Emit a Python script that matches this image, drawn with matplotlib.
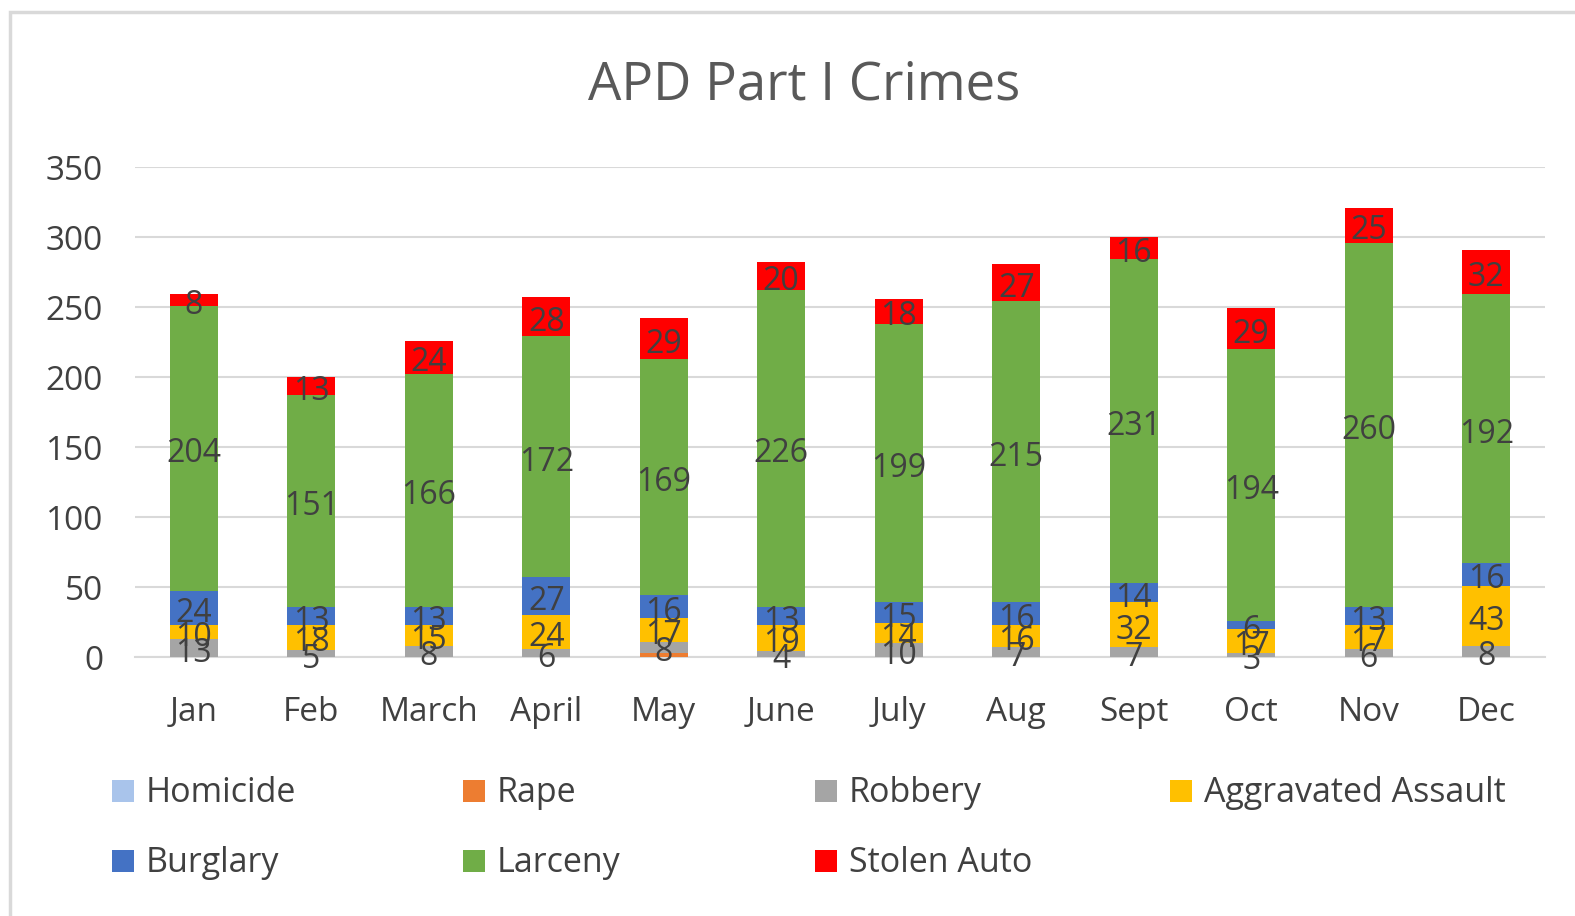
import matplotlib
matplotlib.use("Agg")
import matplotlib.pyplot as plt
from matplotlib.patches import Rectangle
import numpy as np

plt.rcParams['font.family'] = ['Open Sans', 'DejaVu Sans']

months = ["Jan", "Feb", "March", "April", "May", "June", "July", "Aug", "Sept", "Oct", "Nov", "Dec"]
homicide = [0, 0, 0, 0, 0, 0, 0, 0, 0, 0, 0, 0]
rape = [0, 0, 0, 0, 3, 0, 0, 0, 0, 0, 0, 0]
robbery = [13, 5, 8, 6, 8, 4, 10, 7, 7, 3, 6, 8]
agg_assault = [10, 18, 15, 24, 17, 19, 14, 16, 32, 17, 17, 43]
burglary = [24, 13, 13, 27, 16, 13, 15, 16, 14, 6, 13, 16]
larceny = [204, 151, 166, 172, 169, 226, 199, 215, 231, 194, 260, 192]
stolen_auto = [8, 13, 24, 28, 29, 20, 18, 27, 16, 29, 25, 32]

series = [
    ("Homicide", homicide, "#A9C4EB", False),
    ("Rape", rape, "#ED7D31", False),
    ("Robbery", robbery, "#A5A5A5", True),
    ("Aggravated Assault", agg_assault, "#FFC000", True),
    ("Burglary", burglary, "#4472C4", True),
    ("Larceny", larceny, "#70AD47", True),
    ("Stolen Auto", stolen_auto, "#FF0000", True),
]

W, H = 1575, 916
fig = plt.figure(figsize=(W / 100, H / 100), dpi=100)
ax = fig.add_axes([135 / W, 1 - 657 / H, 1410 / W, 490 / H])

text_col = "#404040"
x = np.arange(len(months))
bottom = np.zeros(len(months))
for name, vals, col, lab in series:
    v = np.array(vals, dtype=float)
    ax.bar(x, v, 0.41, bottom=bottom, color=col, zorder=3, label=name)
    if lab:
        for xi, b, vi in zip(x, bottom, v):
            ax.annotate(f"{int(vi)}", (xi, b + vi / 2), xytext=(0, -4),
                        textcoords="offset points", ha="center", va="center",
                        fontsize=23, color=text_col, zorder=4)
    bottom += v

ax.set_xlim(-0.5, len(months) - 0.5)
ax.set_ylim(0, 350)
ax.set_yticks(range(0, 351, 50))
ax.set_xticks(x)
ax.set_xticklabels(months)
ax.grid(axis="y", color="#D9D9D9", linewidth=1.5, zorder=0)
for s in ["top", "right", "left"]:
    ax.spines[s].set_visible(False)
ax.spines["bottom"].set_color("#D9D9D9")
ax.spines["bottom"].set_linewidth(1.5)
ax.tick_params(axis="both", length=0, labelsize=24, labelcolor=text_col)
ax.tick_params(axis="y", pad=23)
ax.tick_params(axis="x", pad=28)

fig.text(804 / W, 1 - 86 / H, "APD Part I Crimes", ha="center", va="center",
         fontsize=38, color="#595959")

# chart border
fig.patches.append(Rectangle((10 / W, -0.1), 1.2, 1 - 12 / H + 0.1,
                             transform=fig.transFigure, fill=False,
                             edgecolor="#D9D9D9", linewidth=2.5))

# legend (row-wise like Excel)
leg_pos = [(112, 791), (463, 791), (815, 791), (1170, 791),
           (112, 861), (463, 861), (815, 861)]
for (px, py), s in zip(leg_pos, series):
    name, _, col, _ = s
    fig.patches.append(Rectangle((px / W, 1 - (py + 11) / H), 22 / W, 22 / H,
                                 transform=fig.transFigure, facecolor=col,
                                 edgecolor="none"))
    fig.text((px + 34) / W, 1 - (py + 2) / H, name, ha="left", va="center",
             fontsize=24.5, color=text_col)

fig.savefig("out.png", dpi=100, facecolor="white")
